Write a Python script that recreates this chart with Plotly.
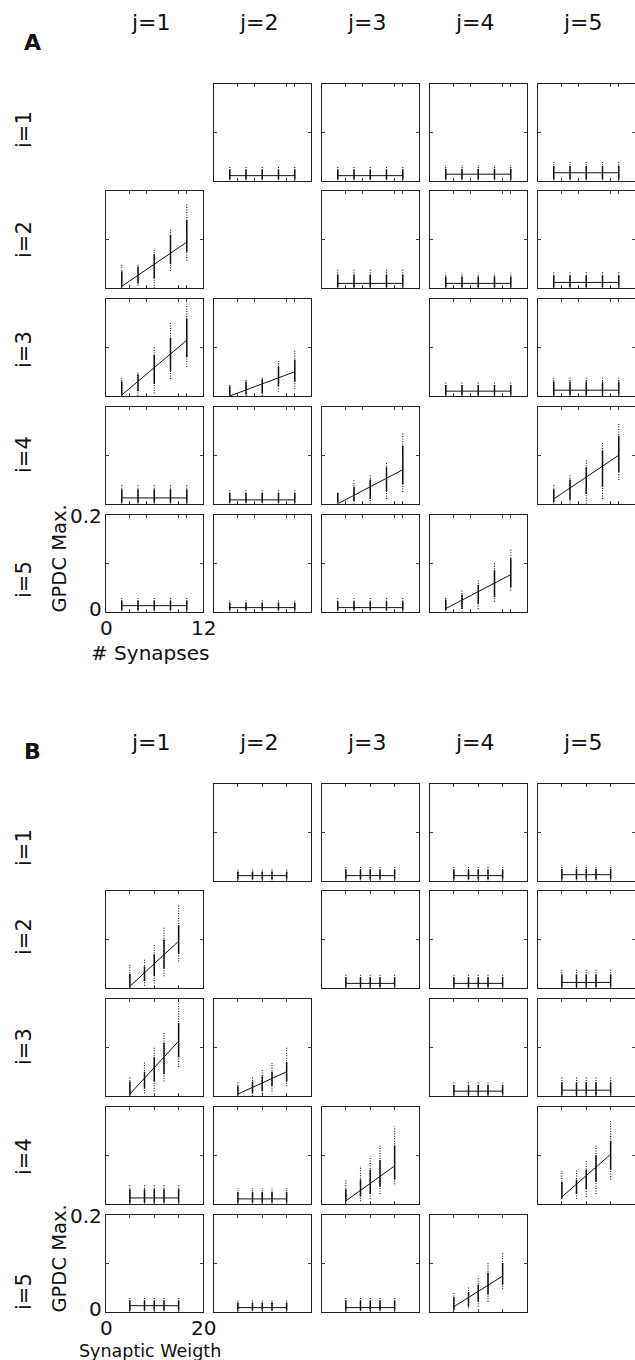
import plotly.graph_objects as go

W, H = 635, 1360

# ---------------- data ----------------
A_X = [2, 4, 6, 8, 10]
B_X = [5, 8, 10, 12, 15]
A_XRANGE = [0, 12]
B_XRANGE = [0, 20]
A_XTICKS = [3, 5, 9, 10]
B_XTICKS = [5, 10, 15]
Y_RANGE = [0, 0.2]
Y_TICKS = [0.1]

# connected pairs (i, j): linear fit start/end
A_FIT = {(2, 1): (0.004, 0.095), (3, 1): (0.002, 0.115), (3, 2): (0.0, 0.05),
         (4, 3): (0.0, 0.07), (4, 5): (0.01, 0.10), (5, 4): (0.006, 0.076)}
A_HI = {(2, 1): [0.05, 0.05, 0.083, 0.122, 0.173], (3, 1): [0.04, 0.05, 0.10, 0.15, 0.19],
        (3, 2): [0.025, 0.035, 0.041, 0.072, 0.094], (4, 3): [0.024, 0.051, 0.06, 0.084, 0.148],
        (4, 5): [0.038, 0.06, 0.09, 0.125, 0.165], (5, 4): [0.03, 0.045, 0.064, 0.10, 0.13]}
A_LO = {(2, 1): [0.0, 0.005, 0.0, 0.036, 0.057], (3, 1): [0.0, 0.0, 0.005, 0.035, 0.06],
        (3, 2): [0.0, 0.0, 0.0, 0.009, 0.014], (4, 3): [0.0, 0.0, 0.0, 0.01, 0.024],
        (4, 5): [0.0, 0.0, 0.0, 0.01, 0.049], (5, 4): [0.0, 0.0, 0.005, 0.02, 0.043]}
A_CORE_LO = {(2, 1): [0.002, 0.01, 0.02, 0.05, 0.075], (3, 1): [0.002, 0.01, 0.025, 0.05, 0.08],
             (3, 2): [0.002, 0.003, 0.005, 0.02, 0.03], (4, 3): [0.002, 0.005, 0.01, 0.025, 0.04],
             (4, 5): [0.003, 0.008, 0.02, 0.035, 0.065], (5, 4): [0.002, 0.005, 0.015, 0.03, 0.05]}
A_CORE_HI = {(2, 1): [0.035, 0.045, 0.07, 0.11, 0.14], (3, 1): [0.03, 0.045, 0.085, 0.12, 0.16],
             (3, 2): [0.02, 0.03, 0.035, 0.06, 0.075], (4, 3): [0.022, 0.035, 0.05, 0.075, 0.12],
             (4, 5): [0.03, 0.05, 0.075, 0.11, 0.14], (5, 4): [0.025, 0.035, 0.055, 0.085, 0.11]}

B_FIT = {(2, 1): (0.004, 0.097), (3, 1): (0.004, 0.113), (3, 2): (0.004, 0.05),
         (4, 3): (0.006, 0.078), (4, 5): (0.014, 0.102), (5, 4): (0.01, 0.073)}
B_HI = {(2, 1): [0.049, 0.06, 0.09, 0.127, 0.172], (3, 1): [0.04, 0.07, 0.10, 0.13, 0.19],
        (3, 2): [0.03, 0.04, 0.055, 0.068, 0.10], (4, 3): [0.05, 0.078, 0.098, 0.12, 0.16],
        (4, 5): [0.068, 0.07, 0.088, 0.122, 0.17], (5, 4): [0.04, 0.05, 0.072, 0.10, 0.12]}
B_LO = {(2, 1): [0.0, 0.005, 0.01, 0.025, 0.055], (3, 1): [0.0, 0.005, 0.01, 0.03, 0.06],
        (3, 2): [0.0, 0.0, 0.005, 0.01, 0.02], (4, 3): [0.0, 0.005, 0.01, 0.02, 0.04],
        (4, 5): [0.01, 0.01, 0.014, 0.02, 0.05], (5, 4): [0.0, 0.006, 0.01, 0.02, 0.046]}
B_CORE_LO = {(2, 1): [0.002, 0.015, 0.025, 0.04, 0.07], (3, 1): [0.002, 0.015, 0.03, 0.045, 0.08],
             (3, 2): [0.002, 0.005, 0.01, 0.02, 0.03], (4, 3): [0.005, 0.015, 0.02, 0.035, 0.05],
             (4, 5): [0.012, 0.02, 0.03, 0.045, 0.07], (5, 4): [0.003, 0.01, 0.02, 0.035, 0.055]}
B_CORE_HI = {(2, 1): [0.03, 0.045, 0.07, 0.1, 0.13], (3, 1): [0.03, 0.05, 0.08, 0.11, 0.15],
             (3, 2): [0.02, 0.03, 0.04, 0.05, 0.07], (4, 3): [0.03, 0.05, 0.07, 0.09, 0.12],
             (4, 5): [0.045, 0.05, 0.07, 0.1, 0.13], (5, 4): [0.03, 0.04, 0.055, 0.08, 0.1]}

# unconnected pairs: fit level and strip top (rows i=1..5, cols j=1..5)
A_FLAT_LEVEL = [[None, 0.010, 0.010, 0.013, 0.016],
                [None, None, 0.010, 0.010, 0.012],
                [None, None, None, 0.010, 0.012],
                [0.012, 0.008, None, None, None],
                [0.012, 0.008, 0.008, None, None]]
A_FLAT_TOP = [[None, 0.030, 0.030, 0.032, 0.040],
              [None, None, 0.038, 0.032, 0.035],
              [None, None, None, 0.030, 0.040],
              [0.040, 0.030, None, None, None],
              [0.030, 0.025, 0.028, None, None]]
B_FLAT_LEVEL = [[None, 0.010, 0.010, 0.010, 0.012],
                [None, None, 0.010, 0.010, 0.012],
                [None, None, None, 0.010, 0.012],
                [0.012, 0.010, None, None, None],
                [0.012, 0.008, 0.008, None, None]]
B_FLAT_TOP = [[None, 0.025, 0.030, 0.030, 0.032],
              [None, None, 0.030, 0.030, 0.038],
              [None, None, None, 0.030, 0.038],
              [0.040, 0.032, None, None, None],
              [0.030, 0.025, 0.030, None, None]]

COL_LABELS = ["j=1", "j=2", "j=3", "j=4", "j=5"]
ROW_LABELS = ["i=1", "i=2", "i=3", "i=4", "i=5"]
A_ROW_LABEL_Y = [130, 240, 350, 455, 580]
B_ROW_LABEL_Y = [848, 937, 1047, 1157, 1292]

# ---------------- layout geometry (pixels) ----------------
COL_LEFT0, COL_STEP, BOX_W = 105.5, 108.0, 97.5
ROW_STEP, BOX_H = 107.75, 97.0
PANELS = [
    dict(name="A", top=83.5, X=A_X, xr=A_XRANGE, xt=A_XTICKS, fit=A_FIT, hi=A_HI, lo=A_LO,
         clo=A_CORE_LO, chi=A_CORE_HI, flev=A_FLAT_LEVEL, ftop=A_FLAT_TOP,
         rowy=A_ROW_LABEL_Y, coly=22, lettery=42, xmax_label="12", xlabel="# Synapses",
         xlabel_size=20, xlabel_dy=41),
    dict(name="B", top=783.5, X=B_X, xr=B_XRANGE, xt=B_XTICKS, fit=B_FIT, hi=B_HI, lo=B_LO,
         clo=B_CORE_LO, chi=B_CORE_HI, flev=B_FLAT_LEVEL, ftop=B_FLAT_TOP,
         rowy=B_ROW_LABEL_Y, coly=743, lettery=751, xmax_label="20", xlabel="Synaptic Weigth",
         xlabel_size=17.5, xlabel_dy=39),
]

FONT = "DejaVu Sans"
fig = go.Figure()
layout = dict(width=W, height=H, margin=dict(l=0, r=0, t=0, b=0),
              paper_bgcolor="white", plot_bgcolor="white", showlegend=False,
              font=dict(family=FONT, color="#111"))
annotations = []


def px(x):
    return x / W


def py(y):
    return 1 - y / H


def ann(text, x, y, size, angle=0, bold=False, xanchor="center", yanchor="middle"):
    annotations.append(dict(text=f"<b>{text}</b>" if bold else text, x=px(x), y=py(y),
                            xref="paper", yref="paper", showarrow=False, textangle=angle,
                            font=dict(size=size, family=FONT, color="#111"),
                            xanchor=xanchor, yanchor=yanchor))


n = 0
for P in PANELS:
    for r in range(5):
        for c in range(5):
            if r == c:
                continue
            n += 1
            key = (r + 1, c + 1)
            xa = "xaxis" if n == 1 else f"xaxis{n}"
            ya = "yaxis" if n == 1 else f"yaxis{n}"
            xr_ = "x" if n == 1 else f"x{n}"
            yr_ = "y" if n == 1 else f"y{n}"
            left = COL_LEFT0 + COL_STEP * c
            top = P["top"] + ROW_STEP * r
            common = dict(showline=True, mirror="ticks", linecolor="#222", linewidth=1,
                          ticks="inside", ticklen=3, tickwidth=1, tickcolor="#444",
                          showticklabels=False, showgrid=False, zeroline=False, fixedrange=True)
            layout[xa] = dict(domain=[px(left), px(left + BOX_W)], range=P["xr"],
                              tickvals=P["xt"], anchor=yr_, **common)
            layout[ya] = dict(domain=[py(top + BOX_H), py(top)], range=Y_RANGE,
                              tickvals=Y_TICKS, anchor=xr_, **common)
            X = P["X"]
            if key in P["fit"]:
                lo, hi = P["lo"][key], P["hi"][key]
                clo, chi = P["clo"][key], P["chi"][key]
                f0, f1 = P["fit"][key]
            else:
                lev = P["flev"][r][c]
                tp = P["ftop"][r][c]
                lo = [0.0] * 5
                hi = [tp] * 5
                clo = [0.002] * 5
                chi = [tp * 0.75] * 5
                f0, f1 = lev, lev
            # sparse tails of the point strips
            xs, ys = [], []
            for k, xv in enumerate(X):
                xs += [xv, xv, None]
                ys += [lo[k], hi[k], None]
            fig.add_trace(go.Scatter(x=xs, y=ys, mode="lines", xaxis=xr_, yaxis=yr_,
                                     line=dict(color="#111", width=1.1, dash="1px,1.5px"),
                                     hoverinfo="skip"))
            # dense cores of the point strips
            xs, ys = [], []
            for k, xv in enumerate(X):
                xs += [xv, xv, None]
                ys += [clo[k], chi[k], None]
            fig.add_trace(go.Scatter(x=xs, y=ys, mode="lines", xaxis=xr_, yaxis=yr_,
                                     line=dict(color="#111", width=1.5), hoverinfo="skip"))
            # linear fit
            fig.add_trace(go.Scatter(x=[X[0], X[-1]], y=[f0, f1], mode="lines",
                                     xaxis=xr_, yaxis=yr_,
                                     line=dict(color="#111", width=1), hoverinfo="skip"))

    # texts
    for c in range(5):
        ann(COL_LABELS[c], COL_LEFT0 + COL_STEP * c + BOX_W / 2 - 3, P["coly"], 22)
    for r in range(5):
        ann(ROW_LABELS[r], 24, P["rowy"][r], 21, angle=-90)
    ann(P["name"], 32, P["lettery"], 22, bold=True)
    bl = COL_LEFT0
    bt = P["top"] + ROW_STEP * 4
    bb = bt + BOX_H
    ann("0.2", bl - 2, bt + 1, 20, xanchor="right")
    ann("0", bl - 2, bb - 3, 20, xanchor="right")
    ann("0", bl + 1, bb + 16, 20)
    ann(P["xmax_label"], bl + BOX_W, bb + 16, 20)
    ann("GPDC Max.", 59, bb - 53, 19.5, angle=-90)
    ann(P["xlabel"], 150, bb + P["xlabel_dy"], P["xlabel_size"])

layout["annotations"] = annotations
fig.update_layout(**layout)
fig.write_html("out.html")
